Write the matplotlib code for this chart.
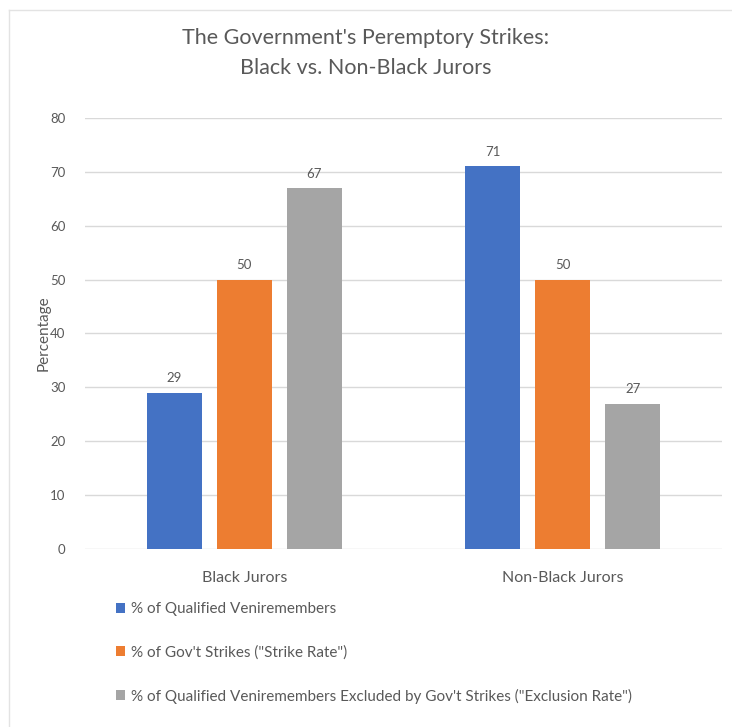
import numpy as np
import matplotlib.pyplot as plt
from matplotlib.lines import Line2D

plt.rcParams['font.family'] = ['Lato', 'DejaVu Sans']

groups = ["Black Jurors", "Non-Black Jurors"]
series_names = [
    "% of Qualified Veniremembers",
    "% of Gov't Strikes (\"Strike Rate\")",
    "% of Qualified Veniremembers Excluded by Gov't Strikes (\"Exclusion Rate\")",
]
qualified = [29, 71]
strike_rate = [50, 50]
exclusion_rate = [67, 27]
colors = ["#4472C4", "#ED7D31", "#A5A5A5"]
text_color = "#595959"

fig = plt.figure(figsize=(7.32, 7.27), dpi=100)
ax = fig.add_axes([85 / 732, 1 - 549 / 727, 637 / 732, 431 / 727])

x = np.arange(len(groups))
width = 0.173
offsets = [-0.22, 0, 0.22]
handles = []
for vals, off, c, name in zip([qualified, strike_rate, exclusion_rate], offsets, colors, series_names):
    bars = ax.bar(x + off, vals, width, color=c, label=name, zorder=3)
    ax.bar_label(bars, padding=6, fontsize=9.5, color=text_color)
    handles.append(bars)

ax.set_xlim(-0.5, 1.5)
ax.set_ylim(0, 80)
ax.set_yticks(range(0, 81, 10))
ax.yaxis.grid(True, color="#D9D9D9", linewidth=1, zorder=0)
ax.set_xticks(x)
ax.set_xticklabels(groups, fontsize=11.5, color=text_color)
ax.tick_params(axis="y", labelsize=9.5, labelcolor=text_color, length=0, pad=14)
ax.tick_params(axis="x", length=0, pad=16)
for s in ax.spines.values():
    s.set_visible(False)
ax.set_ylabel("Percentage", fontsize=11, color=text_color, labelpad=0)

fig.text(0.5, 1 - 53 / 727, "The Government's Peremptory Strikes:\nBlack vs. Non-Black Jurors",
         ha="center", va="center", fontsize=15.5, color=text_color, linespacing=1.65)

fig.legend(handles=handles, labels=series_names, loc="upper left",
           bbox_to_anchor=(110 / 732, 1 - 596 / 727), frameon=False, ncol=1,
           fontsize=11, labelcolor=text_color, handlelength=0.6, handleheight=0.6,
           handletextpad=0.4, labelspacing=1.9, borderaxespad=0)

# faint chart border
fig.add_artist(Line2D([9 / 732, 1], [1 - 10 / 727, 1 - 10 / 727], color="#E3E3E3", linewidth=1))
fig.add_artist(Line2D([9 / 732, 9 / 732], [0, 1 - 10 / 727], color="#E3E3E3", linewidth=1))

fig.savefig("out.png", dpi=100, facecolor="white")
